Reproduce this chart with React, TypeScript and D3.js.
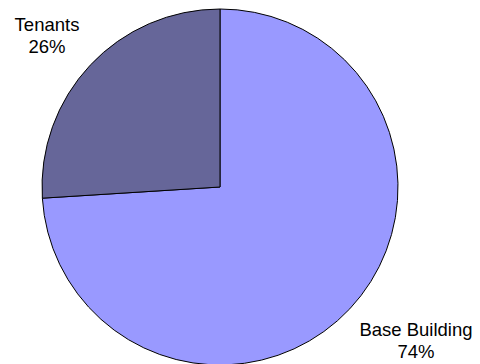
import React from "react";
import * as d3 from "d3";

const categories = ["Base Building", "Tenants"];
const values = [74, 26];
const colors = ["#9999FF", "#666699"];
const labelLines = [["Base Building", "74%"], ["Tenants", "26%"]];

export default function App() {
  const width = 480, height = 364;
  const cx = 220, cy = 187, r = 178;
  const pie = d3.pie<number>().sort(null).value((d) => d)(values);
  const arc = d3.arc<d3.PieArcDatum<number>>().innerRadius(0).outerRadius(r);
  const labelPos = [
    { x: 416, y: 336 },
    { x: 47, y: 31 },
  ];
  return (
    <svg width={width} height={height} style={{ position: "absolute", left: 0, top: 0 }}>
      <rect width={width} height={height} fill="#fff" />
      <g transform={`translate(${cx},${cy})`}>
        {pie.map((p, i) => (
          <path key={categories[i]} d={arc(p) || ""} fill={colors[i]} stroke="#000" strokeWidth={1} />
        ))}
      </g>
      {labelLines.map((lines, i) => (
        <text key={i} x={labelPos[i].x} y={labelPos[i].y} textAnchor="middle"
          fontFamily="Liberation Sans, Arial, sans-serif" fontSize={18.5} fill="#000">
          {lines.map((l, j) => (
            <tspan key={j} x={labelPos[i].x} dy={j === 0 ? 0 : 22}>{l}</tspan>
          ))}
        </text>
      ))}
    </svg>
  );
}
